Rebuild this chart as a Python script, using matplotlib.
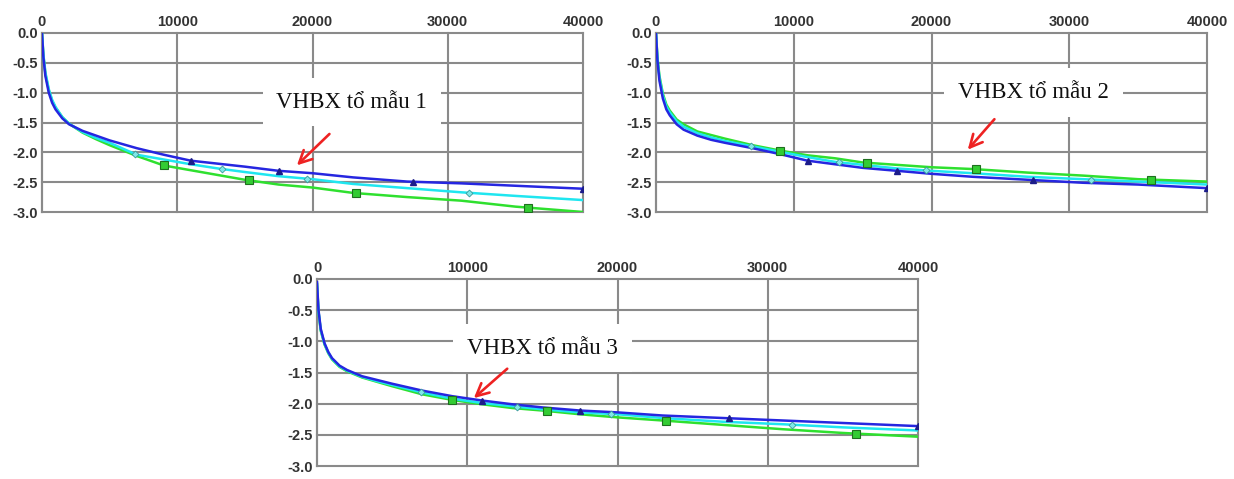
import numpy as np
import matplotlib
matplotlib.use("Agg")
import matplotlib.pyplot as plt
from matplotlib.ticker import FormatStrFormatter

# x positions where the curves were read (same for all panels)
x_pts = [0, 100, 250, 500, 750, 1000, 1500, 2000, 3000, 4000, 5000, 7000, 9000,
         11000, 13000, 15000, 17500, 20000, 23000, 27000, 31000, 35000, 40000]

# panel 1
p1_blue = [0, -0.40, -0.72, -1.00, -1.17, -1.28, -1.43, -1.53, -1.64, -1.72, -1.80, -1.93, -2.04,
           -2.14, -2.19, -2.24, -2.31, -2.35, -2.42, -2.49, -2.52, -2.56, -2.61]
p1_cyan = [0, -0.36, -0.66, -0.94, -1.12, -1.24, -1.41, -1.52, -1.66, -1.76, -1.84, -2.04, -2.12,
           -2.20, -2.27, -2.33, -2.40, -2.45, -2.53, -2.60, -2.67, -2.73, -2.80]
p1_green = [0, -0.37, -0.68, -0.96, -1.14, -1.25, -1.41, -1.52, -1.67, -1.78, -1.88, -2.06, -2.22,
            -2.30, -2.38, -2.46, -2.54, -2.59, -2.68, -2.75, -2.81, -2.91, -3.00]

# panel 2
p2_blue = [0, -0.45, -0.80, -1.10, -1.28, -1.38, -1.53, -1.62, -1.72, -1.79, -1.84, -1.93, -2.03,
           -2.14, -2.20, -2.26, -2.31, -2.36, -2.41, -2.46, -2.51, -2.54, -2.60]
p2_cyan = [0, -0.42, -0.75, -1.05, -1.23, -1.33, -1.48, -1.57, -1.68, -1.75, -1.81, -1.90, -1.99,
           -2.08, -2.16, -2.21, -2.27, -2.31, -2.35, -2.41, -2.45, -2.49, -2.54]
p2_green = [0, -0.40, -0.72, -1.02, -1.20, -1.30, -1.45, -1.53, -1.65, -1.71, -1.77, -1.88, -1.97,
            -2.05, -2.10, -2.17, -2.21, -2.25, -2.28, -2.34, -2.39, -2.45, -2.49]

# panel 3
p3_blue = [-0.05, -0.50, -0.80, -1.03, -1.17, -1.27, -1.39, -1.46, -1.56, -1.62, -1.68, -1.79, -1.88,
           -1.95, -2.01, -2.06, -2.11, -2.14, -2.19, -2.23, -2.27, -2.31, -2.36]
p3_cyan = [-0.08, -0.52, -0.82, -1.04, -1.18, -1.28, -1.40, -1.47, -1.57, -1.64, -1.70, -1.82, -1.92,
           -1.99, -2.04, -2.09, -2.14, -2.17, -2.23, -2.29, -2.33, -2.38, -2.43]
p3_green = [-0.08, -0.53, -0.83, -1.05, -1.19, -1.29, -1.41, -1.48, -1.58, -1.65, -1.72, -1.85, -1.94,
            -2.01, -2.07, -2.11, -2.17, -2.22, -2.27, -2.34, -2.41, -2.47, -2.53]

# marker positions along each series
mk_blue_x = [11000, 17500, 27400, 40000]
mk_cyan_x = [6900, 13300, 19600, 31600]
mk_green_x = [9000, 15300, 23200, 35900]

labels = ["VHBX tổ mẫu 1", "VHBX tổ mẫu 2", "VHBX tổ mẫu 3"]
# label centre, arrow tail, arrow head (data coords)
label_pos = [(22900, -1.16), (27400, -1.0), (15000, -1.11)]
arrow_tail = [(21400, -1.66), (24700, -1.41), (12800, -1.41)]
arrow_head = [(18700, -2.25), (22500, -1.99), (10300, -1.94)]

x_ticks = [0, 10000, 20000, 30000, 40000]
y_ticks = [0.0, -0.5, -1.0, -1.5, -2.0, -2.5, -3.0]

fig = plt.figure(figsize=(12.34, 4.79), dpi=100)
W, H = 1234, 479
boxes = [(42, 33, 583, 212), (656, 33, 1207, 212), (317, 279, 918, 466)]
series = [(p1_blue, p1_cyan, p1_green), (p2_blue, p2_cyan, p2_green),
          (p3_blue, p3_cyan, p3_green)]

blue_c, cyan_c, green_c = "#2626e0", "#1fe6f0", "#2fe02f"

for i, (l, t, r, b) in enumerate(boxes):
    ax = fig.add_axes([l / W, 1 - b / H, (r - l) / W, (b - t) / H])
    blue, cyan, green = series[i]
    ax.plot(x_pts, green, color=green_c, lw=1.8, zorder=3)
    ax.plot(x_pts, cyan, color=cyan_c, lw=1.8, zorder=4)
    ax.plot(x_pts, blue, color=blue_c, lw=1.8, zorder=5)
    ax.plot(mk_green_x, np.interp(mk_green_x, x_pts, green), ls="none", marker="s",
            ms=5.5, mfc="#33cc33", mec="#1f6f1f", mew=0.8, zorder=6)
    ax.plot(mk_cyan_x, np.interp(mk_cyan_x, x_pts, cyan), ls="none", marker="D",
            ms=3.5, mfc="#7fe8e8", mec="#3a9a9a", mew=0.6, zorder=6)
    ax.plot(mk_blue_x, np.interp(mk_blue_x, x_pts, blue), ls="none", marker="^",
            ms=5, mfc="#1c1c8a", mec="#1c1c8a", zorder=7)

    ax.set_xlim(0, 40000)
    ax.set_ylim(-3.0, 0.0)
    ax.set_xticks(x_ticks)
    ax.set_yticks(y_ticks)
    ax.yaxis.set_major_formatter(FormatStrFormatter("%.1f"))
    ax.xaxis.tick_top()
    ax.tick_params(length=0, labelsize=10.5, labelcolor="#333333", pad=3)
    for lab in ax.get_xticklabels() + ax.get_yticklabels():
        lab.set_fontweight("bold")
        lab.set_family("Liberation Sans")
    ax.set_axisbelow(True)
    ax.grid(True, color="#8a8a8a", lw=1.5)
    for gl in ax.get_xgridlines() + ax.get_ygridlines():
        gl.set_clip_on(False)
    for s in ["top", "right", "bottom"]:
        ax.spines[s].set_visible(False)
    ax.spines["left"].set_color("#8a8a8a")
    ax.spines["left"].set_linewidth(1.5)

    ax.text(label_pos[i][0], label_pos[i][1], labels[i], ha="center", va="center",
            fontsize=16.5, family=["Liberation Serif", "DejaVu Serif"], color="#111111",
            zorder=8, bbox=dict(boxstyle="square,pad=0.6", fc="white", ec="none"))
    ax.annotate("", xy=arrow_head[i], xytext=arrow_tail[i], zorder=9,
                arrowprops=dict(arrowstyle="->,head_width=0.45,head_length=0.9",
                                color="#ee2222", lw=1.9))

fig.savefig("out.png", dpi=100)
